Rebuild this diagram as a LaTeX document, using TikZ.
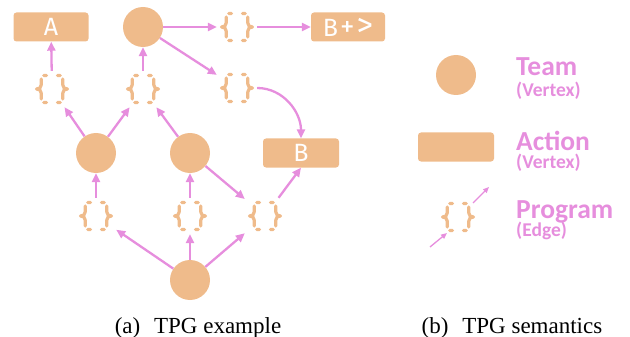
\documentclass[tikz,border=0pt]{standalone}
\usepackage{fontspec}
\setmainfont{Liberation Serif}
\newfontfamily\lgfont{Carlito}
\newfontfamily\boxfont{Fira Sans}
\usetikzlibrary{arrows.meta}
\definecolor{tpgor}{RGB}{239,187,139}
\definecolor{tpgpk}{RGB}{230,142,221}
\tikzset{
  bracehalf/.pic={
    \draw[tpgor,line width=3.2pt,line cap=round,line join=round]
      (-5.5,-13.5) -- (-8.3,-13.5)
      (-10.8,-10) -- (-10.8,-4) .. controls (-10.8,-1.2) and (-12.8,0) .. (-15.5,0)
      .. controls (-12.8,0) and (-10.8,1.2) .. (-10.8,4) -- (-10.8,10)
      (-8.3,13.5) -- (-5.5,13.5);
  },
  braces/.pic={
    \pic {bracehalf};
    \pic[xscale=-1] {bracehalf};
  }
}
\begin{document}
\begin{tikzpicture}[x=1pt,y=-1pt,
  team/.style={circle,fill=tpgor,minimum size=40pt,inner sep=0pt},
  act/.style={rectangle,rounded corners=3pt,fill=tpgor,minimum width=76pt,minimum height=29pt,inner sep=0pt,text=white,font=\boxfont\fontsize{25}{25}\selectfont},
  prog/.style={rectangle,minimum width=40pt,minimum height=36pt,inner sep=0pt},
  conn/.style={draw=tpgpk,line width=2.3pt,-{Triangle[length=9pt,width=8pt]}},
  legconn/.style={draw=tpgpk,line width=1.3pt,-{Triangle[length=6pt,width=5pt]}},
  bigtxt/.style={anchor=base west,inner sep=0pt,text depth=0pt,text=tpgpk,font=\lgfont\bfseries\fontsize{27.5}{27.5}\selectfont},
  smalltxt/.style={anchor=base west,inner sep=0pt,text height=11pt,text=tpgpk,font=\lgfont\bfseries\fontsize{19.5}{19.5}\selectfont},
  captxt/.style={anchor=base,inner sep=0pt,font=\fontsize{23}{23}\selectfont}
]
\useasboundingbox (0,0) rectangle (630,337);

% vertices
\node[act,minimum width=75pt] (tA) at (51,27) {A};
\node[team] (t1) at (143,27) {};
\node[act,minimum width=74pt] (BP) at (348,27) {B\hspace{2pt}{\fontsize{29}{29}\selectfont+}\hspace{2pt}{\fontsize{33}{33}\selectfont>}};
\node[act] (tB) at (301,153) {B};
\node[team] (t2) at (96,153) {};
\node[team] (t3) at (190,153) {};
\node[team] (t4) at (190,280) {};

% programs
\node[prog] (p1) at (237,27) {};
\node[prog] (p2) at (237,88) {};
\node[prog] (p3) at (52,89) {};
\node[prog] (p4) at (143,89) {};
\node[prog] (p5) at (96,216) {};
\node[prog] (p6) at (190,216) {};
\node[prog] (p7) at (265,216) {};
\foreach \n in {p1,p2,p3,p4,p5,p6,p7} \pic at (\n) {braces};

% connectors
\draw[conn] (t1) -- (p1);
\draw[conn] (p1) -- (BP);
\draw[conn] (t1) -- (p2);
\draw[conn] (p2.east) to[out=0,in=90] (tB.north);
\draw[conn] (p3) -- (tA);
\draw[conn] (p4) -- (t1);
\draw[conn] (t2) -- (p3);
\draw[conn] (t2) -- (p4);
\draw[conn] (t3) -- (p4);
\draw[conn] (p5) -- (t2);
\draw[conn] (p6) -- (t3);
\draw[conn] (t3) -- (p7);
\draw[conn] (p7) -- (tB.south);
\draw[conn] (t4) -- (p5);
\draw[conn] (t4) -- (p6);
\draw[conn] (t4) -- (p7);

% legend
\node[team] (lt) at (456,75) {};
\node[act] (la) at (456,147) {};
\node[prog] (lp) at (458,217) {};
\pic at (lp) {braces};
\coordinate (l1a) at (430,247);
\coordinate (l1b) at (447,233);
\coordinate (l2a) at (473,203);
\coordinate (l2b) at (489,187);
\draw[legconn] (l1a) -- (l1b);
\draw[legconn] (l2a) -- (l2b);

\node[bigtxt] (xteam) at (516,76) {Team};
\node[smalltxt] (xv1) at (516,96) {(Vertex)};
\node[bigtxt] (xact) at (516,150) {Action};
\node[smalltxt] (xv2) at (516,168) {(Vertex)};
\node[bigtxt] (xprog) at (516,218) {Program};
\node[smalltxt] (xedge) at (516,236) {(Edge)};

% captions
\node[captxt] (capa) at (198,333) {(a)\hspace{0.6em}TPG example};
\node[captxt] (capb) at (512,333) {(b)\hspace{0.6em}TPG semantics};
\end{tikzpicture}
\end{document}
